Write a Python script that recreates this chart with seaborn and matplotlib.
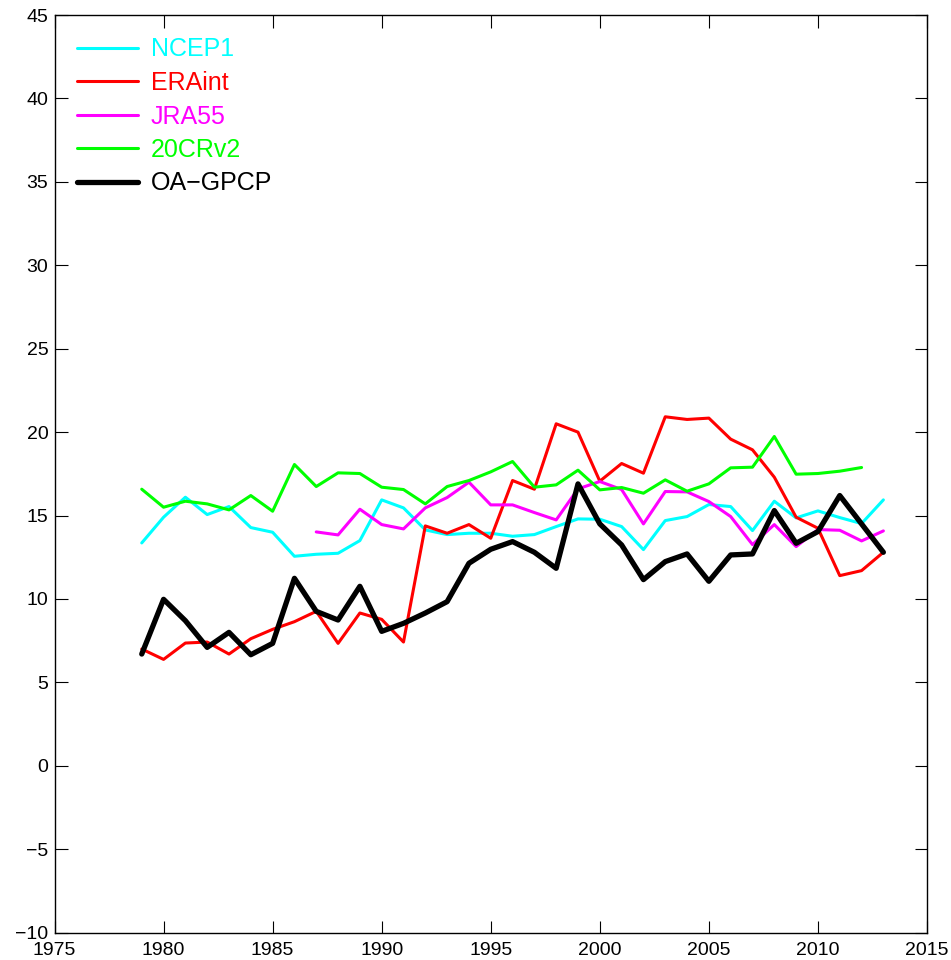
import numpy as np
import pandas as pd
import matplotlib
matplotlib.use("Agg")
import matplotlib.pyplot as plt
import seaborn as sns

years = list(range(1979, 2014))
nan = np.nan

ncep1 = [13.36, 14.9, 16.1, 15.06, 15.54, 14.28, 14.0, 12.56, 12.68, 12.74, 13.5, 15.94, 15.46,
         14.14, 13.86, 13.94, 13.94, 13.76, 13.86, 14.34, 14.8, 14.78, 14.34, 12.96, 14.7,
         14.94, 15.66, 15.54, 14.1, 15.86, 14.86, 15.28, 14.88, 14.52, 15.94]
eraint = [7.0, 6.38, 7.36, 7.42, 6.7, 7.62, 8.18, 8.64, 9.26, 7.34, 9.16, 8.78, 7.42,
          14.38, 13.94, 14.46, 13.64, 17.1, 16.58, 20.5, 20.0, 17.06, 18.12, 17.54, 20.92,
          20.76, 20.84, 19.58, 18.94, 17.3, 14.9, 14.24, 11.4, 11.7, 12.8]
jra55 = [nan, nan, nan, nan, nan, nan, nan, nan, 14.02, 13.84, 15.38, 14.46, 14.2,
         15.46, 16.08, 17.0, 15.64, 15.64, 15.18, 14.74, 16.6, 17.04, 16.56, 14.5, 16.44,
         16.42, 15.84, 14.94, 13.26, 14.46, 13.14, 14.16, 14.12, 13.48, 14.08]
cr20v2 = [16.58, 15.5, 15.86, 15.7, 15.34, 16.2, 15.26, 18.06, 16.74, 17.56, 17.52, 16.7, 16.56,
          15.7, 16.74, 17.1, 17.62, 18.24, 16.7, 16.84, 17.72, 16.54, 16.68, 16.34, 17.14,
          16.46, 16.9, 17.86, 17.9, 19.74, 17.48, 17.52, 17.66, 17.88, nan]
oagpcp = [6.7, 9.98, 8.7, 7.1, 8.0, 6.66, 7.34, 11.24, 9.26, 8.74, 10.76, 8.06, 8.54,
          9.16, 9.84, 12.14, 12.98, 13.44, 12.8, 11.84, 16.9, 14.5, 13.24, 11.16, 12.24,
          12.7, 11.06, 12.64, 12.7, 15.3, 13.34, 14.04, 16.2, 14.5, 12.8]

series_names = ["NCEP1", "ERAint", "JRA55", "20CRv2", "OA\u2212GPCP"]
series_values = [ncep1, eraint, jra55, cr20v2, oagpcp]
colors = ["#00ffff", "#ff0000", "#ff00ff", "#00ff00", "#000000"]
widths = [2.2, 2.2, 2.2, 2.2, 3.8]

x_ticks = list(range(1975, 2016, 5))
y_ticks = list(range(-10, 46, 5))

sns.set_style("white")
plt.rcParams["font.family"] = ["Liberation Sans", "DejaVu Sans"]

fig = plt.figure(figsize=(9.51, 9.6), dpi=100)
ax = fig.add_axes([54.5 / 951, 27.3 / 960, 872.5 / 951, 917.7 / 960])

for name, vals, c, w in zip(series_names, series_values, colors, widths):
    df = pd.DataFrame({"year": years, "value": vals}).dropna()
    sns.lineplot(data=df, x="year", y="value", color=c, linewidth=w, label=name, ax=ax)

ax.set_xlim(1975, 2015)
ax.set_ylim(-10, 45)
ax.set_xticks(x_ticks)
ax.set_yticks(y_ticks)
ax.set_yticklabels([str(v).replace("-", "\u2212") for v in y_ticks])
ax.set_xlabel("")
ax.set_ylabel("")
ax.tick_params(direction="in", length=9, width=0.8, labelsize=14, color="black",
               labelcolor="black", top=True, right=True, bottom=True, left=True)
ax.tick_params(axis="x", pad=6.5)
ax.tick_params(axis="y", pad=4.5)
for s in ax.spines.values():
    s.set_color("black")
    s.set_linewidth(1.0)

leg = ax.legend(loc="upper left", bbox_to_anchor=(0.0, 1.0), frameon=False, fontsize=18,
                handlelength=2.45, handletextpad=0.5, labelspacing=0.38,
                borderaxespad=0.5, labelcolor="linecolor")

fig.savefig("out.png", dpi=100)
